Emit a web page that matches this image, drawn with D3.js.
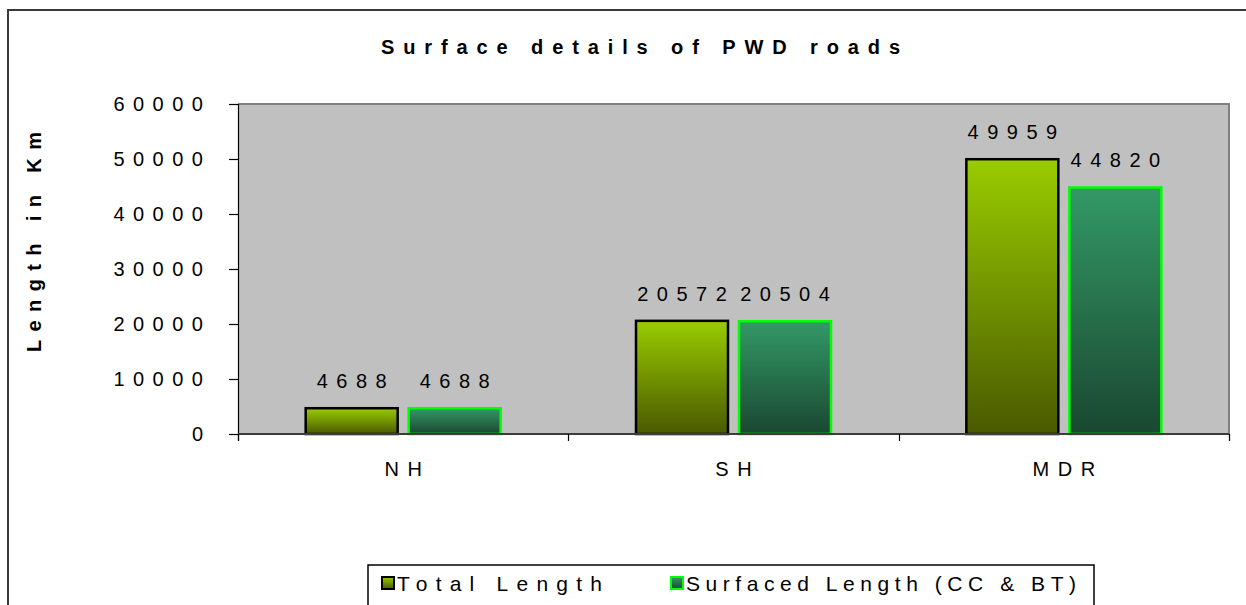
<!DOCTYPE html>
<html>
<head>
<meta charset="utf-8">
<script src="https://cdn.jsdelivr.net/npm/d3@7"></script>
<style>
  html, body { margin: 0; padding: 0; background: #fff; }
  svg { display: block; font-family: "Liberation Sans", Arial, sans-serif; }
</style>
</head>
<body>
<svg id="chart" width="1246" height="605"></svg>
<script>
// Road categories and lengths (km)
const categories = ["NH", "SH", "MDR"];
const seriesNames = ["Total Length", "Surfaced Length (CC & BT)"];
const totalLength = [4688, 20572, 49959];
const surfacedLength = [4688, 20504, 44820];
const yTicks = [0, 10000, 20000, 30000, 40000, 50000, 60000];

const seriesValues = [totalLength, surfacedLength];
const seriesStyle = [
  { id: "gradTotal", top: "#99cc00", bottom: "#4a5900", stroke: "#000000" },
  { id: "gradSurf", top: "#339966", bottom: "#1a4731", stroke: "#00ff00" }
];

const svg = d3.select("#chart");
const plot = { left: 238, right: 1229, top: 104, bottom: 434 };

// Outer chart frame (runs off the right and bottom edges)
svg.append("rect")
  .attr("x", 8).attr("y", 10).attr("width", 1300).attr("height", 700)
  .attr("fill", "#fff").attr("stroke", "#3a3a3a").attr("stroke-width", 2);

// Per-bar vertical gradients
const defs = svg.append("defs");
seriesStyle.forEach(s => {
  const g = defs.append("linearGradient").attr("id", s.id)
    .attr("x1", 0).attr("y1", 0).attr("x2", 0).attr("y2", 1);
  g.append("stop").attr("offset", "0%").attr("stop-color", s.top);
  g.append("stop").attr("offset", "100%").attr("stop-color", s.bottom);
});

const x0 = d3.scaleBand().domain(categories).range([plot.left, plot.right])
  .paddingInner(0).paddingOuter(0);
const x1 = d3.scaleBand().domain(d3.range(seriesNames.length))
  .range([0, x0.bandwidth()]).paddingInner(0.107).paddingOuter(0.657);
const y = d3.scaleLinear().domain([0, 60000]).range([plot.bottom, plot.top]);

// Plot area background
svg.append("rect")
  .attr("x", plot.left).attr("y", plot.top)
  .attr("width", plot.right - plot.left).attr("height", plot.bottom - plot.top)
  .attr("fill", "#c0c0c0");
// top and right borders
svg.append("path")
  .attr("d", `M${plot.left},${plot.top}H${plot.right}V${plot.bottom}`)
  .attr("fill", "none").attr("stroke", "#808080").attr("stroke-width", 2);

// Bars
const groups = svg.append("g").selectAll("g")
  .data(categories).join("g")
  .attr("transform", d => `translate(${x0(d)},0)`);

groups.each(function(cat, ci) {
  const g = d3.select(this);
  seriesValues.forEach((vals, si) => {
    const v = vals[ci];
    g.append("rect")
      .attr("x", x1(si)).attr("width", x1.bandwidth())
      .attr("y", y(v)).attr("height", y(0) - y(v))
      .attr("fill", `url(#${seriesStyle[si].id})`)
      .attr("stroke", seriesStyle[si].stroke).attr("stroke-width", 2.5);
  });
});

// Value labels
const lblSpacing = 8.5;
groups.each(function(cat, ci) {
  const g = d3.select(this);
  seriesValues.forEach((vals, si) => {
    const v = vals[ci];
    g.append("text")
      .attr("x", x1(si) + x1.bandwidth() / 2 + lblSpacing / 2)
      .attr("y", y(v) - 20)
      .attr("text-anchor", "middle")
      .attr("font-size", 20).attr("letter-spacing", lblSpacing)
      .attr("fill", "#000")
      .text(v);
  });
});

// Y axis
const yAxis = svg.append("g")
  .attr("transform", `translate(${plot.left},0)`)
  .call(d3.axisLeft(y).tickValues(yTicks).tickSize(9).tickPadding(26).tickFormat(d3.format("d")));
yAxis.select(".domain").attr("stroke", "#000").attr("stroke-width", 1.2)
  .attr("d", `M0.5,${plot.top}V${plot.bottom + 7}`);
yAxis.selectAll(".tick line").attr("stroke", "#000").attr("stroke-width", 1.2);
yAxis.selectAll(".tick text")
  .attr("font-size", 20).attr("letter-spacing", lblSpacing)
  .attr("font-family", "Liberation Sans, Arial, sans-serif")
  .attr("fill", "#000").attr("dx", lblSpacing);

// X axis
const xAxis = svg.append("g")
  .attr("transform", `translate(0,${plot.bottom})`)
  .call(d3.axisBottom(x0).tickSize(0).tickPadding(28));
xAxis.select(".domain").attr("stroke", "#3c3c3c").attr("stroke-width", 2)
  .attr("d", `M${plot.left},0H${plot.right}`);
xAxis.selectAll(".tick text")
  .attr("font-size", 20).attr("letter-spacing", lblSpacing)
  .attr("font-family", "Liberation Sans, Arial, sans-serif")
  .attr("fill", "#000").attr("dx", lblSpacing / 2);
// category boundary ticks
const bounds = categories.map(c => x0(c)).concat([x0(categories[categories.length - 1]) + x0.bandwidth()]);
xAxis.selectAll("line.bound").data(bounds).join("line")
  .attr("class", "bound")
  .attr("x1", d => Math.round(d) + 0.5).attr("x2", d => Math.round(d) + 0.5)
  .attr("y1", 0).attr("y2", 7)
  .attr("stroke", "#000").attr("stroke-width", 1.2);

// Title
svg.append("text")
  .attr("x", 381).attr("y", 54)
  .attr("font-size", 20).attr("font-weight", "bold")
  .attr("textLength", 519).attr("lengthAdjust", "spacing")
  .text("Surface details of PWD roads");

// Y axis title
svg.append("text")
  .attr("transform", "translate(41,352) rotate(-90)")
  .attr("font-size", 20).attr("font-weight", "bold")
  .attr("textLength", 220).attr("lengthAdjust", "spacing")
  .text("Length in Km");

// Legend
const legend = svg.append("g");
legend.append("rect")
  .attr("x", 368).attr("y", 565).attr("width", 726).attr("height", 80)
  .attr("fill", "#fff").attr("stroke", "#000").attr("stroke-width", 1.5);
const legendX = [382, 671];
const legendTextLen = [205, 390];
seriesNames.forEach((name, i) => {
  legend.append("rect")
    .attr("x", legendX[i]).attr("y", 577).attr("width", 12).attr("height", 12)
    .attr("fill", `url(#${seriesStyle[i].id})`)
    .attr("stroke", seriesStyle[i].stroke).attr("stroke-width", 2);
  legend.append("text")
    .attr("x", legendX[i] + 15).attr("y", 591)
    .attr("font-size", 21)
    .attr("textLength", legendTextLen[i]).attr("lengthAdjust", "spacing")
    .text(name);
});
</script>
</body>
</html>
